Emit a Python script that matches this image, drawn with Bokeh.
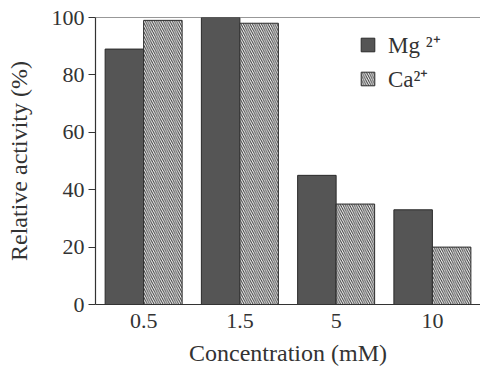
from bokeh.plotting import figure
from bokeh.models import FactorRange, Range1d, Span, Legend, LegendItem, ColumnDataSource
from bokeh.transform import dodge
from bokeh.embed import file_html
from bokeh.resources import INLINE

concentrations = ["0.5", "1.5", "5", "10"]
mg_values = [89, 100, 45, 33]
ca_values = [99, 98, 35, 20]
y_ticks = [0, 20, 40, 60, 80, 100]

src = ColumnDataSource(dict(conc=concentrations, mg=mg_values, ca=ca_values))

FONT = "Liberation Serif"

p = figure(width=480, height=373,
           x_range=FactorRange(*concentrations, range_padding=0),
           y_range=Range1d(0, 100),
           output_backend="svg", toolbar_location=None,
           min_border_left=95, min_border_right=0, min_border_top=17, min_border_bottom=69)

p.outline_line_color = None
p.xgrid.grid_line_color = None
p.ygrid.grid_line_color = None
p.background_fill_color = "white"
p.border_fill_color = "white"

mg = p.vbar(x=dodge("conc", -0.2, range=p.x_range), top="mg", width=0.4, source=src,
            fill_color="#555555", line_color="#2a2a2a", line_width=1)
ca = p.vbar(x=dodge("conc", 0.2, range=p.x_range), top="ca", width=0.4, source=src,
            fill_color="white", line_color="#2a2a2a", line_width=1,
            hatch_pattern="left_diagonal_line", hatch_color="#333333", hatch_scale=4.5, hatch_weight=1)

p.add_layout(Span(location=100, dimension="width", line_color="#333333", line_width=1.2))

# axes
p.yaxis.ticker = y_ticks
p.yaxis.axis_label = "Relative activity (%)"
p.xaxis.axis_label = "Concentration (mM)"
for ax in (p.xaxis, p.yaxis):
    ax.axis_line_color = "#333333"
    ax.axis_line_width = 1.2
    ax.major_label_text_font = FONT
    ax.major_label_text_font_size = "22px"
    ax.major_label_text_color = "#333333"
    ax.axis_label_text_font = FONT
    ax.axis_label_text_font_size = "24px"
    ax.axis_label_text_font_style = "normal"
    ax.axis_label_text_color = "#333333"
    ax.minor_tick_line_color = None
p.yaxis.major_tick_out = 7
p.yaxis.major_tick_in = 0
p.yaxis.major_tick_line_color = "#333333"
p.yaxis.major_label_standoff = 4
p.yaxis.axis_label_standoff = 17
p.xaxis.major_tick_line_color = None
p.xaxis.major_tick_out = 0
p.xaxis.major_label_standoff = 9
p.xaxis.axis_label_standoff = 9

legend = Legend(items=[LegendItem(label="Mg \u00b2\u207a", renderers=[mg]),
                       LegendItem(label="Ca\u00b2\u207a", renderers=[ca])],
                location=(264, 210), border_line_color=None, background_fill_alpha=0,
                label_text_font=FONT, label_text_font_size="23px", label_text_color="#333333",
                glyph_width=17, glyph_height=17, spacing=2, label_standoff=12, padding=4, margin=0)
p.add_layout(legend)

open("out.html", "w").write(file_html(p, INLINE))
